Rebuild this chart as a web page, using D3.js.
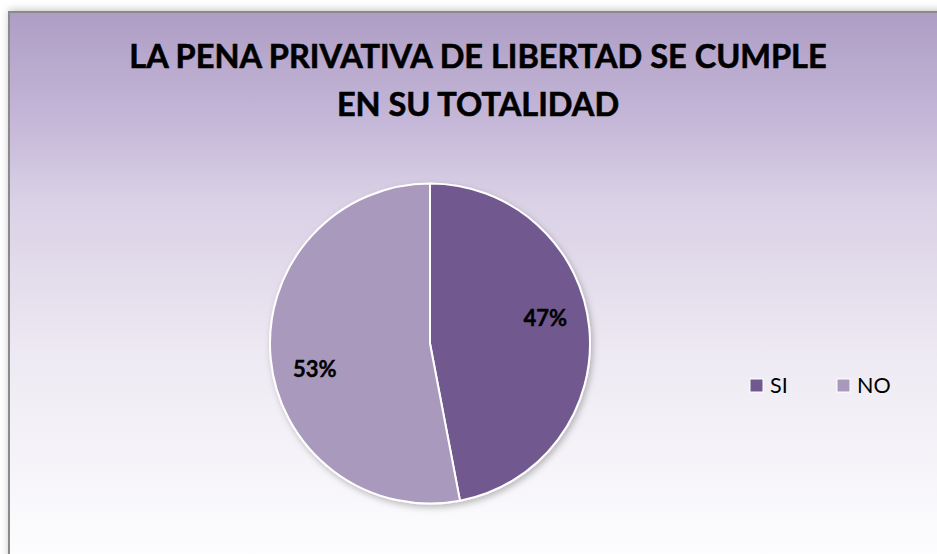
<!DOCTYPE html>
<meta charset="utf-8">
<style>
  body { margin: 0; background: #fff; }
  svg { display: block; font-family: Lato, "Open Sans", sans-serif; }
</style>
<body>
<svg id="chart" width="937" height="554"></svg>
<script src="https://cdn.jsdelivr.net/npm/d3@7"></script>
<script>
// data
var categories = ["SI", "NO"];
var values = [47, 53];
var colors = ["#71588f", "#a899bd"];
var titleLines = ["LA PENA PRIVATIVA DE LIBERTAD SE CUMPLE", "EN SU TOTALIDAD"];

var svg = d3.select("#chart"),
    width = +svg.attr("width"),
    height = +svg.attr("height");

var defs = svg.append("defs");

var grad = defs.append("linearGradient")
    .attr("id", "bg")
    .attr("x1", 0).attr("y1", 0).attr("x2", 0).attr("y2", 1);
[[0, "#ae9dc5"], [0.2, "#c5b8d8"], [0.33, "#d9d0e5"], [0.62, "#eeeaf3"], [1, "#fefeff"]]
    .forEach(function(s) {
        grad.append("stop").attr("offset", s[0]).attr("stop-color", s[1]);
    });

var blur = defs.append("filter").attr("id", "boxShadow")
    .attr("x", "-5%").attr("y", "-5%").attr("width", "110%").attr("height", "110%");
blur.append("feGaussianBlur").attr("stdDeviation", 4);

var pieShadow = defs.append("filter").attr("id", "pieShadow")
    .attr("x", "-10%").attr("y", "-10%").attr("width", "120%").attr("height", "120%");
pieShadow.append("feDropShadow")
    .attr("dx", 2).attr("dy", 3).attr("stdDeviation", 3)
    .attr("flood-color", "#000").attr("flood-opacity", 0.25);

// chart frame (right and bottom edges fall outside the window)
var frame = { x: 9, y: 12, w: 940, h: 560 };

svg.append("rect")
    .attr("x", frame.x).attr("y", frame.y - 2)
    .attr("width", frame.w).attr("height", frame.h)
    .attr("fill", "#000").attr("opacity", 0.25)
    .attr("filter", "url(#boxShadow)");

svg.append("rect")
    .attr("x", frame.x).attr("y", frame.y)
    .attr("width", frame.w).attr("height", frame.h)
    .attr("fill", "url(#bg)")
    .attr("stroke", "#8a8a8a")
    .attr("stroke-width", 2);

// title
var cx = frame.x + frame.w / 2 - 1;
svg.append("g").selectAll("text")
    .data(titleLines)
    .enter().append("text")
    .attr("x", cx)
    .attr("y", function(d, i) { return 68 + i * 48; })
    .attr("text-anchor", "middle")
    .attr("font-weight", "bold")
    .attr("font-size", 32.5)
    .attr("fill", "#000")
    .attr("stroke", "#000")
    .attr("stroke-width", 0.6)
    .text(function(d) { return d; });

// pie
var r = 160;
var pieG = svg.append("g").attr("transform", "translate(430,343.5)");

var pie = d3.pie().sort(null).value(function(d) { return d; });
var arcs = pie(values);
var arc = d3.arc().innerRadius(0).outerRadius(r);

pieG.append("g")
    .attr("filter", "url(#pieShadow)")
    .selectAll("path")
    .data(arcs)
    .enter().append("path")
    .attr("d", arc)
    .attr("fill", function(d, i) { return colors[i]; })
    .attr("stroke", "#fff")
    .attr("stroke-width", 2)
    .attr("stroke-linejoin", "round");

// labels sit a little counter-clockwise of each slice's middle, like Excel's best fit
var labelR = 118, shift = 0.12;
pieG.selectAll("text.lbl")
    .data(arcs)
    .enter().append("text")
    .attr("class", "lbl")
    .attr("transform", function(d) {
        var a = (d.startAngle + d.endAngle) / 2 - shift;
        return "translate(" + (labelR * Math.sin(a)) + "," + (-labelR * Math.cos(a)) + ")";
    })
    .attr("dy", "0.36em")
    .attr("text-anchor", "middle")
    .attr("font-weight", "bold")
    .attr("font-size", 22)
    .attr("stroke", "#000")
    .attr("stroke-width", 0.4)
    .text(function(d) { return Math.round(d.data) + "%"; });

// legend
var legend = svg.append("g").attr("transform", "translate(750,379)");
var item = legend.selectAll("g")
    .data(categories)
    .enter().append("g")
    .attr("transform", function(d, i) { return "translate(" + (i * 87) + ",0)"; });

item.append("rect")
    .attr("width", 13).attr("height", 13)
    .attr("fill", function(d, i) { return colors[i]; })
    .attr("stroke", "#fff").attr("stroke-width", 1);

item.append("text")
    .attr("x", 20)
    .attr("y", 13.5)
    .attr("font-size", 21.5)
    .attr("fill", "#000")
    .text(function(d) { return d; });
</script>
</body>
